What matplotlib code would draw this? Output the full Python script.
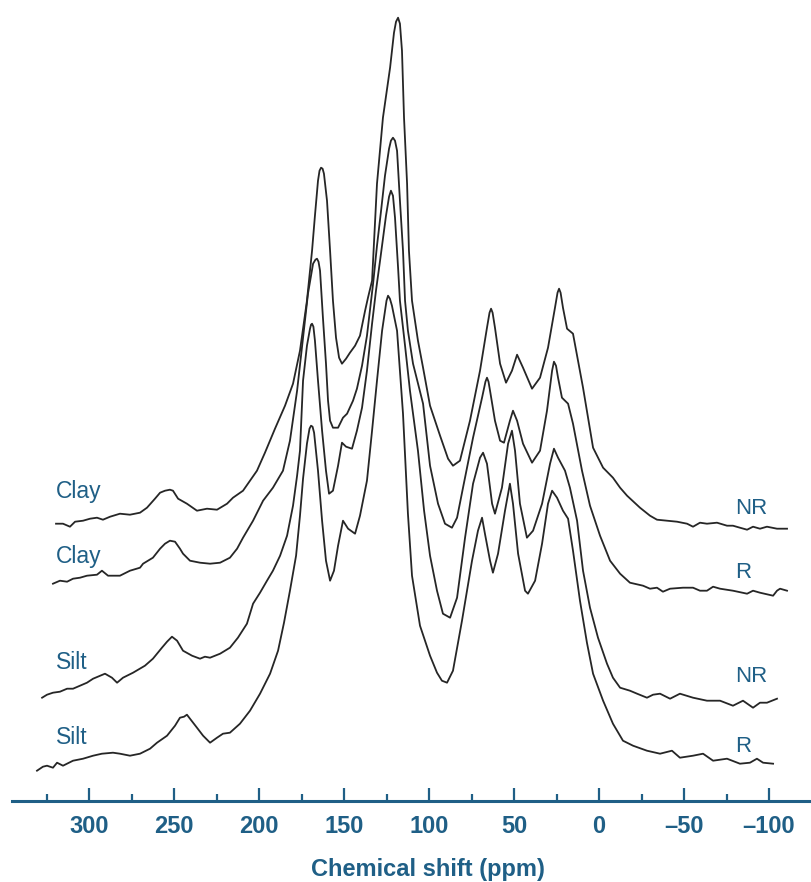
import matplotlib
matplotlib.use("Agg")
import matplotlib.pyplot as plt
from matplotlib.ticker import FixedLocator

# ---- data ----
# chemical shift (ppm) and stacked intensity (arbitrary units, offset included)
clay_nr_ppm = [319.4, 315.3, 311.2, 308.2, 303.5, 299.4, 295.3, 291.8, 287.6, 281.8, 275.9, 270.0,
               265.9, 261.2, 258.2, 255.3, 252.4, 250.6, 247.6, 242.4, 236.5, 230.6, 224.7, 218.8,
               215.3, 209.4, 205.3, 201.2, 196.5, 190.6, 184.7, 180.0, 175.9, 171.8, 168.8, 167.1,
               165.3, 164.4, 163.5, 162.6, 161.8, 160.0, 158.2, 156.5, 154.7, 152.9, 151.2, 148.8,
               146.5, 143.5, 140.6, 137.6, 135.9, 133.5, 130.6, 127.1, 122.9, 120.6, 119.4, 118.2,
               117.1, 115.9, 114.7, 112.9, 111.8, 110.0, 106.5, 103.5, 99.4, 93.5, 88.8, 85.9, 81.8,
               75.9, 70.0, 65.9, 64.4, 63.5, 62.6, 61.2, 58.2, 54.7, 51.2, 48.2, 44.7, 39.4, 34.7,
               30.0, 25.9, 24.4, 23.5, 22.6, 21.2, 18.8, 15.3, 9.4, 3.5, -2.4, -8.2, -12.4, -16.5,
               -24.1, -30.0, -34.1, -40.0, -45.9, -51.8, -55.3, -59.4, -63.5, -69.4, -75.3, -78.8,
               -82.9, -87.1, -90.6, -94.7, -98.8, -104.7, -110.6]
clay_nr_int = [277, 277, 274, 279, 280, 282, 283, 281, 284, 287, 286, 288,
               293, 302, 308, 310, 311, 310, 302, 297, 290, 292, 291, 297,
               303, 310, 320, 330, 348, 372, 395, 417, 450, 500, 550, 585,
               620, 630, 633, 632, 627, 600, 550, 500, 463, 443, 437, 442,
               448, 455, 465, 490, 503, 520, 617, 683, 733, 768, 779, 783,
               777, 750, 683, 617, 550, 500, 460, 433, 395, 365, 342, 335, 340,
               380, 430, 473, 488, 492, 488, 473, 437, 418, 430, 446, 433, 412, 423,
               453, 493, 508, 512, 508, 493, 472, 467, 413, 353, 333, 323, 313, 305,
               293, 285, 281, 280, 279, 277, 274, 278, 277, 278, 275, 275,
               273, 271, 274, 272, 274, 272, 272]

clay_r_ppm = [321.2, 317.1, 312.9, 309.4, 305.3, 301.2, 295.3, 292.4, 288.8, 285.9, 281.8, 275.9,
              270.0, 268.2, 262.4, 258.2, 255.3, 252.4, 249.4, 246.5, 244.7, 240.6, 234.7, 228.8,
              222.9, 217.1, 212.9, 209.4, 203.5, 197.6, 191.8, 185.9, 181.8, 177.6, 174.1, 171.2,
              168.2, 166.8, 165.9, 165.0, 164.1, 162.4, 160.6, 159.4, 158.2, 156.5, 153.5, 150.6,
              148.2, 144.7, 142.4, 139.4, 136.5, 132.9, 130.6, 128.2, 125.9, 123.5, 122.4, 121.2,
              120.0, 118.8, 117.1, 115.3, 114.1, 112.4, 109.4, 103.5, 99.4, 94.7, 90.6, 86.5, 83.5,
              80.0, 74.1, 68.8, 66.8, 65.9, 65.0, 64.1, 61.2, 58.2, 55.9, 52.4, 50.6, 48.2, 44.7,
              39.4, 34.7, 30.6, 27.6, 26.5, 25.3, 24.1, 21.8, 18.2, 15.3, 10.0, 5.3, -0.6, -6.5,
              -12.4, -18.2, -25.9, -30.0, -34.1, -37.6, -41.8, -49.4, -55.3, -59.4, -63.5, -67.1,
              -71.2, -78.8, -87.1, -90.6, -94.7, -102.4, -104.7, -106.5, -110.6]
clay_r_int = [217, 220, 219, 222, 223, 225, 226, 230, 225, 225, 225, 230,
              233, 237, 243, 252, 257, 260, 259, 252, 247, 240, 238, 237,
              238, 243, 252, 263, 280, 300, 313, 330, 360, 410, 463, 507,
              537, 541, 542, 539, 530, 483, 437, 400, 380, 373, 373, 383,
              387, 400, 412, 435, 465, 517, 555, 590, 625, 652, 660, 663,
              660, 650, 600, 550, 500, 470, 437, 397, 335, 297, 277, 273, 283,
              313, 363, 403, 419, 423, 419, 410, 380, 360, 358, 380, 390, 380, 357,
              338, 350, 390, 430, 439, 435, 423, 403, 397, 377, 330, 295, 265, 240,
              227, 218, 215, 212, 213, 209, 212, 213, 213, 210, 210, 214,
              212, 210, 207, 210, 208, 205, 210, 212, 210]

silt_nr_ppm = [327.6, 324.7, 321.2, 317.1, 312.9, 309.4, 305.3, 301.2, 297.6, 290.6, 286.5, 283.5,
               280.0, 274.1, 267.1, 262.4, 257.1, 254.1, 251.2, 248.2, 244.7, 239.4, 234.7, 231.8,
               228.8, 222.9, 217.1, 212.4, 207.1, 203.5, 199.4, 195.3, 191.8, 187.6, 183.5, 180.0,
               177.6, 175.9, 174.1, 171.8, 170.0, 169.4, 168.8, 168.0, 167.1, 165.3, 162.9, 160.6,
               158.8, 156.5, 153.5, 151.2, 148.8, 145.3, 142.4, 139.4, 136.5, 133.5, 131.2, 128.8,
               125.3, 123.5, 122.4, 121.2, 120.0, 118.2, 117.1, 114.1, 111.2, 106.5, 102.9, 99.4,
               95.3, 91.8, 87.6, 83.5, 78.8, 74.1, 70.0, 68.2, 65.9, 62.9, 61.2, 57.1, 53.5, 51.2,
               49.4, 46.5, 42.4, 38.8, 33.5, 28.8, 26.5, 24.1, 20.0, 17.1, 12.9, 9.4, 5.3, 0.6,
               -4.7, -8.2, -12.4, -18.2, -22.4, -28.2, -31.8, -35.9, -41.8, -47.6, -55.3, -63.5,
               -71.2, -78.8, -84.7, -90.6, -94.7, -98.8, -104.7]
silt_nr_int = [103, 106, 108, 109, 112, 112, 115, 118, 122, 127, 123, 118,
               123, 128, 135, 142, 153, 159, 164, 160, 150, 145, 142, 144,
               143, 147, 153, 163, 177, 197, 208, 220, 230, 245, 265, 295,
               325, 350, 420, 455, 472, 476, 477, 474, 460, 420, 370, 330,
               307, 310, 335, 358, 354, 352, 370, 393, 430, 477, 510, 540,
               585, 604, 610, 605, 583, 533, 500, 455, 410, 350, 290, 245,
               210, 187, 183, 203, 263, 317, 343, 348, 337, 297, 287, 313, 357, 370,
               350, 297, 263, 270, 297, 337, 352, 343, 330, 313, 280, 230, 193, 163,
               137, 123, 113, 110, 107, 103, 106, 107, 102, 107, 103, 100,
               100, 95, 100, 93, 98, 98, 102]

silt_r_ppm = [330.6, 327.1, 324.7, 321.2, 318.8, 315.3, 309.4, 303.5, 297.6, 292.4, 285.9, 281.8,
              275.9, 270.0, 264.1, 260.0, 254.1, 249.4, 246.5, 244.1, 242.4, 240.6, 236.5, 232.9,
              228.8, 224.7, 221.2, 217.1, 211.2, 205.3, 199.4, 193.5, 188.8, 185.3, 181.8, 178.2,
              175.9, 174.1, 171.8, 170.3, 169.4, 168.5, 167.6, 165.3, 162.9, 160.6, 158.2, 155.9,
              153.5, 150.6, 147.6, 143.5, 140.6, 136.5, 133.5, 130.6, 127.6, 125.0, 124.1, 123.0,
              121.8, 118.8, 115.3, 112.4, 110.0, 105.3, 99.4, 95.3, 92.4, 89.4, 85.9, 80.6, 74.7,
              71.2, 68.8, 67.1, 64.1, 62.4, 59.4, 55.3, 52.4, 50.6, 47.6, 43.5, 41.8, 37.6, 33.5,
              30.0, 27.6, 24.7, 21.2, 18.2, 15.3, 11.2, 7.1, 3.5, -2.4, -8.2, -14.1, -20.0, -28.2,
              -35.9, -42.9, -47.6, -55.3, -61.2, -67.1, -75.3, -82.9, -88.8, -92.9, -96.5, -102.4]
silt_r_int = [30, 34, 35, 33, 38, 35, 40, 42, 45, 47, 48, 47,
              45, 47, 52, 58, 65, 75, 83, 84, 86, 82, 73, 65,
              58, 63, 67, 68, 77, 90, 107, 127, 150, 178, 210, 245,
              285, 322, 357, 372, 375, 374, 368, 330, 280, 240, 220, 230,
              255, 280, 272, 267, 285, 320, 370, 420, 470, 500, 505, 502,
              495, 470, 387, 287, 225, 175, 145, 128, 120, 118, 130, 180, 240,
              270, 283, 267, 240, 228, 247, 290, 317, 297, 247, 210, 207, 220, 257,
              297, 310, 303, 290, 282, 250, 200, 158, 127, 100, 77, 60, 55, 50,
              47, 50, 43, 45, 47, 40, 42, 37, 38, 42, 38, 37]

traces = [(clay_nr_ppm, clay_nr_int), (clay_r_ppm, clay_r_int),
          (silt_nr_ppm, silt_nr_int), (silt_r_ppm, silt_r_int)]

left_labels = ["Clay", "Clay", "Silt", "Silt"]
right_labels = ["NR", "R", "NR", "R"]
label_heights = [309, 244, 138, 63]
right_label_heights = [292, 228, 124, 54]

major_ticks = [300, 250, 200, 150, 100, 50, 0, -50, -100]
minor_ticks = [325, 275, 225, 175, 125, 75, 25, -25, -75]
x_label = "Chemical shift (ppm)"

# ---- drawing ----
teal = "#1f5f86"
W, H = 811, 882
fig = plt.figure(figsize=(W / 100, H / 100), dpi=100)
ax_bottom_px = 882 - 800.7
ax = fig.add_axes([12 / W, ax_bottom_px / H, 1 - 12 / W, 1 - ax_bottom_px / H])
ax.set_xlim(345.3, -124.7)
ax.set_ylim(0, 800.7)

for ppm, inten in traces:
    ax.plot(ppm, inten, color="#262626", lw=1.3, solid_joinstyle="round")

for lab, h in zip(left_labels, label_heights):
    ax.text(319.5, h, lab, color=teal, fontsize=16.5, family="Liberation Sans",
            ha="left", va="center")
for lab, h in zip(right_labels, right_label_heights):
    ax.text(-80, h, lab, color=teal, fontsize=16, family="Liberation Sans",
            ha="left", va="center")

for s in ["left", "top", "right"]:
    ax.spines[s].set_visible(False)
ax.spines["bottom"].set_color(teal)
ax.spines["bottom"].set_linewidth(2.2)
ax.set_yticks([])
ax.xaxis.set_major_locator(FixedLocator(major_ticks))
ax.xaxis.set_minor_locator(FixedLocator(minor_ticks))
ax.set_xticklabels([f"{t}".replace("-", "\u2013") for t in major_ticks])
ax.tick_params(axis="x", which="major", direction="in", length=9.5, width=1.6,
               color=teal, pad=10, labelsize=17, labelcolor=teal)
ax.tick_params(axis="x", which="minor", direction="in", length=5, width=1.6, color=teal)
for lbl in ax.get_xticklabels():
    lbl.set_fontweight("bold")
    lbl.set_family("Liberation Sans")

x_center_ppm = 100.6
fig.text(ax.transData.transform((x_center_ppm, 0))[0] / W, (882 - 876) / H, x_label,
         color=teal, fontsize=17, fontweight="bold", family="Liberation Sans",
         ha="center", va="baseline")

fig.savefig("out.png", dpi=100)
